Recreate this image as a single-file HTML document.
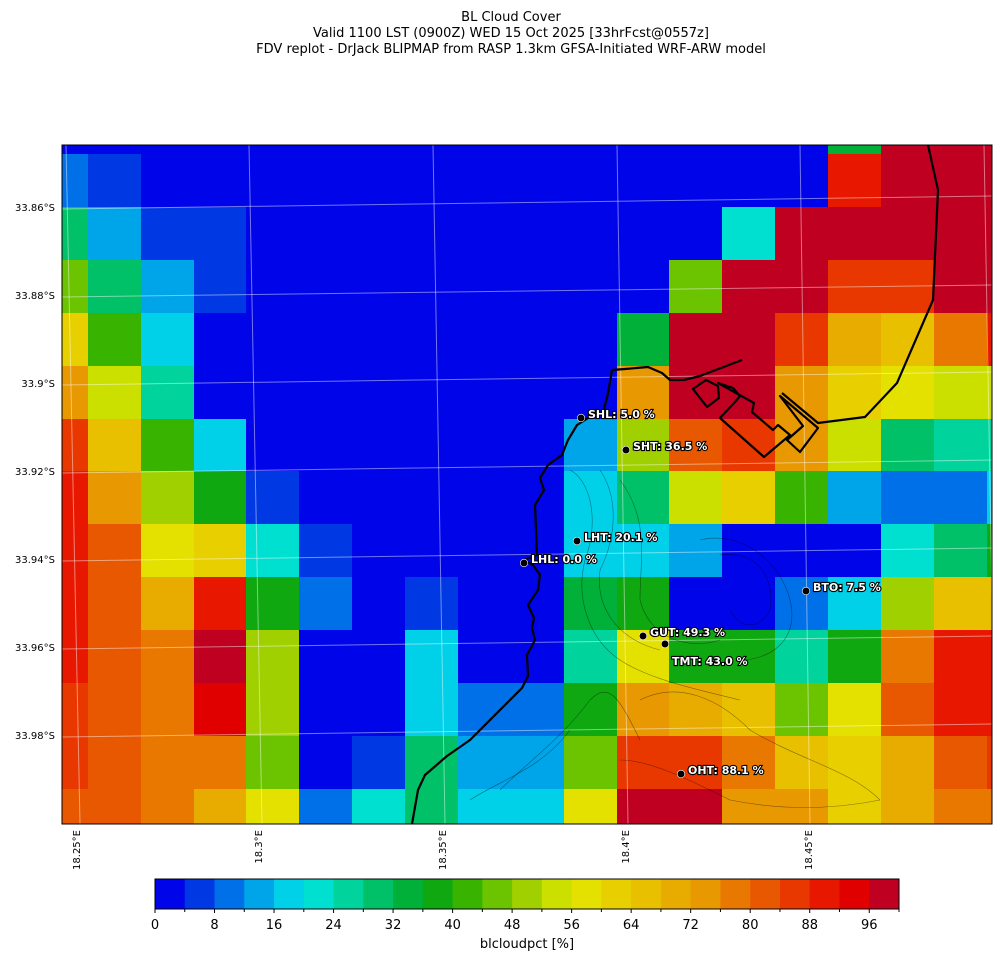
<!DOCTYPE html>
<html><head><meta charset="utf-8"><style>
html,body{margin:0;padding:0;background:#fff;}
svg{display:block;font-family:"DejaVu Sans","Liberation Sans",sans-serif;}
</style></head><body>
<svg id="s" width="1001" height="962" viewBox="0 0 1001 962" xmlns="http://www.w3.org/2000/svg">
<g font-size="13" text-anchor="middle" fill="#000">
<text x="511" y="21">BL Cloud Cover</text>
<text x="511" y="37">Valid 1100 LST (0900Z) WED 15 Oct 2025 [33hrFcst@0557z]</text>
<text x="511" y="53">FDV replot - DrJack BLIPMAP from RASP 1.3km GFSA-Initiated WRF-ARW model</text>
</g>
<g id="grid"></g>
<g stroke="#fff" stroke-opacity="0.45" stroke-width="1" fill="none">
<path d="M66 145 L80 824"/><path d="M249 145 L262 824"/><path d="M433 145 L445 824"/><path d="M617 145 L628 824"/><path d="M800 145 L810 824"/><path d="M984 145 L992 600"/>
<path d="M62 209 L992 196"/><path d="M62 297 L992 285"/><path d="M62 385 L992 372"/><path d="M62 473 L992 460"/><path d="M62 561 L992 548"/><path d="M62 649 L992 636"/><path d="M62 737 L992 724"/>
</g>
<g stroke="#000" stroke-opacity="0.45" stroke-width="0.6" fill="none">
<path d="M570 470 C590 480 600 520 585 560 C575 600 590 640 620 660 C650 680 700 690 740 700"/>
<path d="M600 470 C620 500 615 540 600 570 C595 610 620 640 660 650"/>
<path d="M620 480 C650 520 640 560 640 600 C650 640 690 650 720 640"/>
<path d="M700 540 C740 530 780 560 790 600 C800 640 770 660 740 660"/>
<path d="M720 555 C760 550 775 580 770 610 C760 630 740 630 730 610"/>
<path d="M500 790 C530 760 560 740 590 700 C610 680 620 700 640 740"/>
<path d="M470 800 C500 780 540 770 570 730"/>
<path d="M640 700 C680 680 720 700 750 730 C800 760 850 770 880 800"/>
<path d="M620 760 C650 760 690 780 730 800 C780 810 830 810 880 800"/>
</g>
<g stroke="#000" stroke-width="2.2" fill="none" stroke-linejoin="round">
<path d="M412 824 L418 790 L425 775 L447 756 L470 740 L492 718 L510 700 L522 688 L528 676 L527 655 L535 640 L532 628 L534 618 L528 605 L538 590 L540 575 L533 565 L524 560 L537 555 L536 530 L535 505 L544 490 L540 478 L548 465 L562 455 L568 440 L577 425 L588 418 L603 412 L607 398 L610 382 L612 370 L625 369 L648 367 L662 373 L670 380 L684 380 L700 376 L742 360"/>
<path d="M693 389 L706 380 L718 386 L719 398 L707 407 Z"/>
<path d="M718 383 L733 388 L740 396 L735 402 L720 418 L764 457 L790 435 L778 425 L773 430 L752 412 L754 403 Z"/>
<path d="M780 396 L818 428 L800 452 L787 440 L803 426 Z"/>
<path d="M928 145 L938 190 L933 300 L897 383 L865 417 L818 423 L782 393"/>
</g>
<rect x="62" y="145" width="930" height="679" fill="none" stroke="#000" stroke-width="1"/>
<g font-size="10" text-anchor="end" fill="#000">
<text x="55" y="211">33.86°S</text><text x="55" y="299">33.88°S</text><text x="55" y="387">33.9°S</text><text x="55" y="475">33.92°S</text><text x="55" y="563">33.94°S</text><text x="55" y="651">33.96°S</text><text x="55" y="739">33.98°S</text>
</g>
<g font-size="10" text-anchor="end" fill="#000">
<text transform="translate(80,830) rotate(-90)">18.25°E</text>
<text transform="translate(262,830) rotate(-90)">18.3°E</text>
<text transform="translate(446,830) rotate(-90)">18.35°E</text>
<text transform="translate(629,830) rotate(-90)">18.4°E</text>
<text transform="translate(812,830) rotate(-90)">18.45°E</text>
</g>
<g id="st" font-size="11" font-weight="bold" fill="#fff" stroke="#000" stroke-width="2.2" paint-order="stroke"></g>
<g id="cb"></g>
<rect x="155" y="879" width="744" height="30" fill="none" stroke="#000" stroke-width="1"/>
<g id="cbt" font-size="13" text-anchor="middle"></g>
<text x="527" y="948" font-size="13" text-anchor="middle">blcloudpct [%]</text>
</svg>
<script>
var C=["#0004e8","#0038e3","#0070e8","#00a4e8","#00d0e8","#00e0d0","#00d49c","#00c068","#00b038","#10a810","#38b400","#6cc400","#a0d000","#cce000","#e4e000","#e8d000","#e8c000","#e8ac00","#e89800","#e87800","#e85800","#e83800","#e81800","#e00000","#c00020"];
var xs=[62,88,141,194,246,299,352,405,458,511,564,617,669,722,775,828,881,934,987,992];
var ys=[145,154,207,260,313,366,419,471,524,577,630,683,736,789,824];
var D=[
[0,0,0,0,0,0,0,0,0,0,0,0,0,0,0,8,24,24,24],
[2,1,0,0,0,0,0,0,0,0,0,0,0,0,0,22,24,24,24],
[7,3,1,1,0,0,0,0,0,0,0,0,0,5,24,24,24,24,24],
[11,7,3,1,0,0,0,0,0,0,0,0,11,24,24,21,21,24,24],
[15,10,4,0,0,0,0,0,0,0,0,8,24,24,21,17,16,19,22],
[18,13,6,0,0,0,0,0,0,0,0,18,24,24,18,15,14,13,13],
[21,16,10,4,0,0,0,0,0,0,3,12,20,21,18,13,7,6,6],
[22,18,12,9,1,0,0,0,0,0,4,7,13,15,10,3,2,2,4],
[22,20,14,15,5,1,0,0,0,0,4,4,3,0,0,0,5,7,9],
[22,20,17,22,9,2,0,1,0,0,8,9,0,0,2,4,12,16,16],
[22,20,19,24,12,0,0,4,0,0,6,14,9,9,6,9,19,22,22],
[21,20,19,23,12,0,0,4,2,2,9,18,17,16,11,14,20,22,22],
[21,20,19,19,11,0,1,7,3,3,11,21,21,19,16,15,17,20,21],
[20,20,19,17,14,2,5,7,4,4,14,24,24,18,18,15,17,19,19]];
var NS="http://www.w3.org/2000/svg",g=document.getElementById("grid");
function el(t,a,p){var e=document.createElementNS(NS,t);for(var k in a)e.setAttribute(k,a[k]);p.appendChild(e);return e;}
for(var r=0;r<14;r++)for(var c=0;c<19;c++)el("rect",{x:xs[c],y:ys[r],width:xs[c+1]-xs[c]+0.5,height:ys[r+1]-ys[r]+0.5,fill:C[D[r][c]]},g);
var cb=document.getElementById("cb"),w=744/25;
for(var i=0;i<25;i++)el("rect",{x:155+i*w,y:879,width:w+0.5,height:30,fill:C[i]},cb);
var cbt=document.getElementById("cbt");
for(var i=0;i<=25;i++){el("line",{x1:155+i*w,x2:155+i*w,y1:909,y2:(i%2?912:913),stroke:"#000"},cbt);if(i%2==0&&i<25){var t=el("text",{x:155+i*w,y:929},cbt);t.textContent=i*4;}}
var S=[["SHL: 5.0 %",581,418,588,418],["SHT: 36.5 %",626,450,633,450],["LHT: 20.1 %",577,541,584,541],["LHL: 0.0 %",524,563,531,563],["BTO: 7.5 %",806,591,813,591],["GUT: 49.3 %",643,636,650,636],["TMT: 43.0 %",665,644,672,665],["OHT: 88.1 %",681,774,688,774]];
var st=document.getElementById("st");
S.forEach(function(s){el("circle",{cx:s[1],cy:s[2],r:3.5,fill:"#000",stroke:"#fff","stroke-width":1.2},st);var t=el("text",{x:s[3],y:s[4]},st);t.textContent=s[0];});
</script>
</body></html>
